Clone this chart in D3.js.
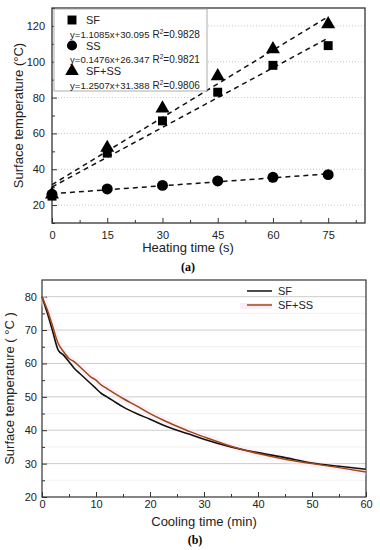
<!DOCTYPE html>
<html><head><meta charset="utf-8">
<script src="https://cdn.jsdelivr.net/npm/d3@7/dist/d3.min.js"></script>
<style>body{margin:0;background:#fff}svg{display:block;font-family:Arial,"Liberation Sans",sans-serif}</style>
</head><body><svg id="c" width="380" height="550"></svg>
<script>
// ---- Data (a) heating ----
const heatTimes = [0, 15, 30, 45, 60, 75];
const heatSF = [25, 49, 67, 83, 98, 109];
const heatSS = [26, 29, 31, 33.5, 35.5, 37];
const heatSFSS = [26, 52, 74, 92, 107, 121];
const fitSF = [1.1085, 30.095];
const fitSS = [0.1476, 26.347];
const fitSFSS = [1.2507, 31.388];
const legendNames = ["SF", "SS", "SF+SS"];
const legendEq = ["y=1.1085x+30.095", "y=0.1476x+26.347", "y=1.2507x+31.388"];
const legendR2 = ["=0.9828", "=0.9821", "=0.9806"];
const xTicksA = [0, 15, 30, 45, 60, 75];
const yTicksA = [20, 40, 60, 80, 100, 120];

// ---- Data (b) cooling ----
const coolTimes = [0, 1, 2, 3, 4, 5, 6, 7, 8, 9, 10, 11, 12, 13, 15, 17.5, 20, 22.5, 25, 27.5, 30, 35, 40, 45, 50, 55, 60];
const coolSF = [80, 75, 69.5, 64, 62.5, 60.5, 58.5, 57, 55.5, 54, 52.5, 51, 50, 49, 47, 45, 43.3, 41.5, 40, 38.7, 37.3, 35, 33.3, 31.8, 30.2, 29.2, 28.3];
const coolSFSS = [80, 76, 71, 66, 63.5, 61.5, 60.5, 59, 57.5, 56, 55, 53.5, 52.5, 51.5, 49.5, 47.3, 45, 43, 41.2, 39.5, 38, 35.2, 33, 31.3, 30, 28.8, 27.5];
const xTicksB = [0, 10, 20, 30, 40, 50, 60];
const yTicksB = [20, 30, 40, 50, 60, 70, 80];

const svg = d3.select("#c");

// ================= Chart (a) =================
const A = {l: 52, r: 365, t: 8, b: 223};
const xa = d3.scaleLinear().domain([0, 85]).range([A.l, A.r]);
const ya = d3.scaleLinear().domain([10, 130]).range([A.b, A.t]);
const ga = svg.append("g");

ga.selectAll(".gy").data(yTicksA).join("line")
  .attr("x1", A.l).attr("x2", A.r).attr("y1", d => ya(d)).attr("y2", d => ya(d))
  .attr("stroke", "#bbb").attr("stroke-width", 0.8).attr("stroke-dasharray", "1,2");

ga.append("g").attr("transform", `translate(0,${A.b})`)
  .call(d3.axisBottom(xa).tickValues(xTicksA).tickSize(-5).tickPadding(8))
  .call(g => g.select(".domain").remove());
ga.append("g").attr("transform", `translate(0,${A.b})`)
  .call(d3.axisBottom(xa).tickValues(d3.range(7.5, 85, 15)).tickSize(-3).tickFormat(""))
  .call(g => g.select(".domain").remove());
ga.append("g").attr("transform", `translate(${A.l},0)`)
  .call(d3.axisLeft(ya).tickValues(yTicksA).tickSize(-5).tickPadding(7))
  .call(g => g.select(".domain").remove());
ga.append("g").attr("transform", `translate(${A.l},0)`)
  .call(d3.axisLeft(ya).tickValues(d3.range(10, 131, 20)).tickSize(-3).tickFormat(""))
  .call(g => g.select(".domain").remove());
ga.selectAll(".tick text").attr("font-size", 11).attr("fill", "#222");
ga.selectAll(".tick line").attr("stroke", "#333");
ga.append("rect").attr("x", A.l).attr("y", A.t).attr("width", A.r - A.l).attr("height", A.b - A.t)
  .attr("fill", "none").attr("stroke", "#333").attr("stroke-width", 1.3);

[fitSF, fitSS, fitSFSS].forEach(f => {
  ga.append("line").attr("x1", xa(0)).attr("y1", ya(f[1])).attr("x2", xa(75)).attr("y2", ya(f[0] * 75 + f[1]))
    .attr("stroke", "#111").attr("stroke-width", 1.5).attr("stroke-dasharray", "5,4");
});

const sym = {sq: d3.symbolSquare, ci: d3.symbolCircle, tr: d3.symbolTriangle};
function pts(vals, type, size) {
  ga.selectAll(null).data(heatTimes).join("path")
    .attr("transform", (d, i) => `translate(${xa(d)},${ya(vals[i])})`)
    .attr("d", d3.symbol(sym[type], size)).attr("fill", "#000");
}
pts(heatSS, "ci", 95);
pts(heatSF, "sq", 80);
pts(heatSFSS, "tr", 85);

// legend (a)
const lg = ga.append("g");
lg.append("rect").attr("x", 54).attr("y", 9).attr("width", 153).attr("height", 82)
  .attr("fill", "#fff").attr("stroke", "#999").attr("stroke-width", 0.8);
const lsyms = ["sq", "ci", "tr"];
legendNames.forEach((t, i) => {
  const yN = 20 + i * 25.5, yE = 33.5 + i * 25.5;
  lg.append("path").attr("transform", `translate(72,${yN})`).attr("d", d3.symbol(sym[lsyms[i]], 80)).attr("fill", "#000");
  lg.append("text").attr("x", 86).attr("y", yN + 4).attr("font-size", 11).attr("fill", "#222").text(t);
  lg.append("text").attr("x", 70).attr("y", yE + 4).attr("font-size", 9.6).attr("fill", "#222").text(legendEq[i]);
  const r = lg.append("text").attr("x", 152.5).attr("y", yE + 4).attr("font-size", 10).attr("fill", "#222");
  r.append("tspan").text("R");
  r.append("tspan").attr("dy", -4).attr("font-size", 6.5).text("2");
  r.append("tspan").attr("dy", 4).text(legendR2[i]);
});

ga.append("text").attr("x", 188).attr("y", 252).attr("text-anchor", "middle")
  .attr("font-size", 13).attr("fill", "#222").text("Heating time (s)");
ga.append("text").attr("transform", `translate(23,${(A.t + A.b) / 2}) rotate(-90)`).attr("text-anchor", "middle")
  .attr("font-size", 13).attr("fill", "#222").text("Surface temperature (°C)");
ga.append("text").attr("x", 188).attr("y", 271).attr("text-anchor", "middle")
  .attr("font-family", "Liberation Serif, serif").attr("font-weight", "bold").attr("font-size", 12).text("(a)");

// ================= Chart (b) =================
const B = {l: 42, r: 366, t: 280, b: 497};
const xb = d3.scaleLinear().domain([0, 60]).range([B.l, B.r]);
const yb = d3.scaleLinear().domain([20, 85]).range([B.b, B.t]);
const gb = svg.append("g");

gb.selectAll(null).data(d3.range(25, 85, 10)).join("line")
  .attr("x1", B.l).attr("x2", B.r).attr("y1", d => yb(d)).attr("y2", d => yb(d))
  .attr("stroke", "#eee").attr("stroke-width", 0.8);
gb.selectAll(null).data(yTicksB.slice(1)).join("line")
  .attr("x1", B.l).attr("x2", B.r).attr("y1", d => yb(d)).attr("y2", d => yb(d))
  .attr("stroke", "#ccc").attr("stroke-width", 1);

gb.append("g").attr("transform", `translate(0,${B.b})`)
  .call(d3.axisBottom(xb).tickValues(xTicksB).tickSize(-5).tickPadding(3))
  .call(g => g.select(".domain").remove());
gb.append("g").attr("transform", `translate(0,${B.b})`)
  .call(d3.axisBottom(xb).tickValues(d3.range(5, 60, 10)).tickSize(-3).tickFormat(""))
  .call(g => g.select(".domain").remove());
gb.append("g").attr("transform", `translate(${B.l},0)`)
  .call(d3.axisLeft(yb).tickValues(yTicksB).tickSize(-5).tickPadding(5))
  .call(g => g.select(".domain").remove());
gb.append("g").attr("transform", `translate(${B.l},0)`)
  .call(d3.axisLeft(yb).tickValues(d3.range(25, 85, 10)).tickSize(-3).tickFormat(""))
  .call(g => g.select(".domain").remove());
gb.selectAll(".tick text").attr("font-size", 11).attr("fill", "#222");
gb.selectAll(".tick line").attr("stroke", "#333");
gb.append("rect").attr("x", B.l).attr("y", B.t).attr("width", B.r - B.l).attr("height", B.b - B.t)
  .attr("fill", "none").attr("stroke", "#333").attr("stroke-width", 1.2);

const line = d3.line().x(d => xb(d[0])).y(d => yb(d[1])).curve(d3.curveMonotoneX);
const dSFSS = coolTimes.map((t, i) => [t, coolSFSS[i]]);
const dSF = coolTimes.map((t, i) => [t, coolSF[i]]);
gb.append("path").attr("d", line(dSFSS)).attr("fill", "none").attr("stroke", "#fde4f3").attr("stroke-width", 7).attr("opacity", 0.5);
gb.append("path").attr("d", line(dSF)).attr("fill", "none").attr("stroke", "#111").attr("stroke-width", 1.6);
gb.append("path").attr("d", line(dSFSS)).attr("fill", "none").attr("stroke", "#9c4a14").attr("stroke-width", 1.5);

gb.append("line").attr("x1", 247).attr("x2", 272).attr("y1", 291).attr("y2", 291).attr("stroke", "#111").attr("stroke-width", 1.5);
gb.append("rect").attr("x", 240).attr("y", 303).attr("width", 32).attr("height", 6).attr("fill", "#fde4f3").attr("opacity", 0.7);
gb.append("line").attr("x1", 247).attr("x2", 272).attr("y1", 305).attr("y2", 305).attr("stroke", "#9c4a14").attr("stroke-width", 1.5);
gb.append("text").attr("x", 278).attr("y", 295).attr("font-size", 11).attr("fill", "#222").text("SF");
gb.append("text").attr("x", 278).attr("y", 309).attr("font-size", 11).attr("fill", "#222").text("SF+SS");

gb.append("text").attr("x", (B.l + B.r) / 2).attr("y", 526).attr("text-anchor", "middle")
  .attr("font-size", 13).attr("fill", "#222").text("Cooling time (min)");
gb.append("text").attr("transform", `translate(14,${(B.t + B.b) / 2}) rotate(-90)`).attr("text-anchor", "middle")
  .attr("font-size", 13).attr("fill", "#222").text("Surface temperature ( °C )");
gb.append("text").attr("x", 195).attr("y", 544).attr("text-anchor", "middle")
  .attr("font-family", "Liberation Serif, serif").attr("font-weight", "bold").attr("font-size", 12).text("(b)");
</script></body></html>
